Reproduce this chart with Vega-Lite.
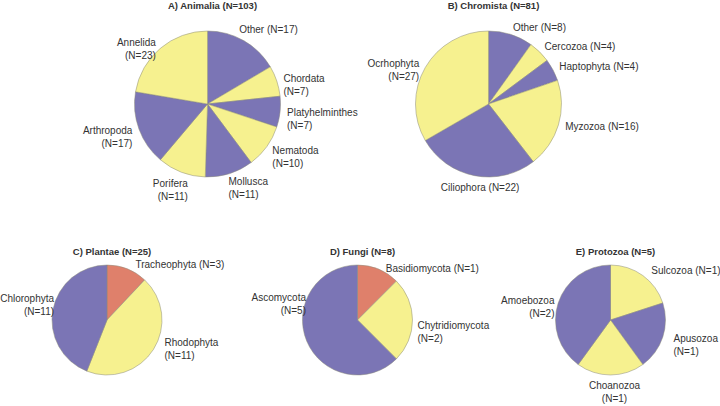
{
  "$schema": "https://vega.github.io/schema/vega-lite/v6.json",
  "padding": 0,
  "background": "white",
  "spacing": 38,
  "data": {"values": [
    {"k": "A", "i": 1, "name": "Other", "n": 17, "label": "Other (N=17)"},
    {"k": "A", "i": 2, "name": "Chordata", "n": 7, "label": "Chordata\n(N=7)"},
    {"k": "A", "i": 3, "name": "Platyhelminthes", "n": 7, "label": "Platyhelminthes\n(N=7)"},
    {"k": "A", "i": 4, "name": "Nematoda", "n": 10, "label": "Nematoda\n(N=10)"},
    {"k": "A", "i": 5, "name": "Mollusca", "n": 11, "label": "Mollusca\n(N=11)"},
    {"k": "A", "i": 6, "name": "Porifera", "n": 11, "label": "Porifera\n(N=11)"},
    {"k": "A", "i": 7, "name": "Arthropoda", "n": 17, "label": "Arthropoda\n(N=17)"},
    {"k": "A", "i": 8, "name": "Annelida", "n": 23, "label": "Annelida\n(N=23)"},
    {"k": "B", "i": 1, "name": "Other", "n": 8, "label": "Other (N=8)"},
    {"k": "B", "i": 2, "name": "Cercozoa", "n": 4, "label": "Cercozoa (N=4)"},
    {"k": "B", "i": 3, "name": "Haptophyta", "n": 4, "label": "Haptophyta (N=4)"},
    {"k": "B", "i": 4, "name": "Myzozoa", "n": 16, "label": "Myzozoa (N=16)"},
    {"k": "B", "i": 5, "name": "Ciliophora", "n": 22, "label": "Ciliophora (N=22)"},
    {"k": "B", "i": 6, "name": "Ocrhophyta", "n": 27, "label": "Ocrhophyta\n(N=27)"},
    {"k": "C", "i": 1, "name": "Tracheophyta", "n": 3, "label": "Tracheophyta (N=3)"},
    {"k": "C", "i": 2, "name": "Rhodophyta", "n": 11, "label": "Rhodophyta\n(N=11)"},
    {"k": "C", "i": 3, "name": "Chlorophyta", "n": 11, "label": "Chlorophyta\n(N=11)"},
    {"k": "D", "i": 1, "name": "Basidiomycota", "n": 1, "label": "Basidiomycota (N=1)"},
    {"k": "D", "i": 2, "name": "Chytridiomycota", "n": 2, "label": "Chytridiomycota\n(N=2)"},
    {"k": "D", "i": 3, "name": "Ascomycota", "n": 5, "label": "Ascomycota\n(N=5)"},
    {"k": "E", "i": 1, "name": "Sulcozoa", "n": 1, "label": "Sulcozoa (N=1)"},
    {"k": "E", "i": 2, "name": "Apusozoa", "n": 1, "label": "Apusozoa\n(N=1)"},
    {"k": "E", "i": 3, "name": "Choanozoa", "n": 1, "label": "Choanozoa\n(N=1)"},
    {"k": "E", "i": 4, "name": "Amoebozoa", "n": 2, "label": "Amoebozoa\n(N=2)"}
  ]},
  "config": {
    "view": {"stroke": null},
    "text": {"font": "Liberation Sans", "fontSize": 10, "color": "#333333", "lineBreak": "\n", "lineHeight": 13},
    "arc": {"stroke": "#8a8a7a", "strokeWidth": 0.5},
    "title": {"font": "Liberation Sans", "fontSize": 9.5, "fontWeight": "bold", "color": "#333333", "offset": 6, "anchor": "middle", "frame": "group"},
    "legend": {"disable": true}
  },
  "vconcat": [
    {
      "hconcat": [
        {
          "width": 381, "height": 176,
          "title": {"text": "A) Animalia (N=103)", "dx": 5},
          "transform": [{"filter": "datum.k === 'A'"}],
          "encoding": {
            "theta": {"field": "n", "type": "quantitative", "stack": "normalize"},
            "order": {"field": "i", "type": "quantitative"}
          },
          "layer": [
            {"mark": {"type": "arc", "outerRadius": 73},
             "encoding": {"color": {"field": "name", "type": "nominal", "legend": null,
               "scale": {"domain": ["Other","Chordata","Platyhelminthes","Nematoda","Mollusca","Porifera","Arthropoda","Annelida","Cercozoa","Haptophyta","Myzozoa","Ciliophora","Ocrhophyta","Tracheophyta","Rhodophyta","Chlorophyta","Basidiomycota","Chytridiomycota","Ascomycota","Sulcozoa","Apusozoa","Choanozoa","Amoebozoa"],
                         "range": ["#7b75b5","#f6f18f","#7b75b5","#f6f18f","#7b75b5","#f6f18f","#7b75b5","#f6f18f","#f6f18f","#7b75b5","#f6f18f","#7b75b5","#f6f18f","#df806b","#f6f18f","#7b75b5","#df806b","#f6f18f","#7b75b5","#f6f18f","#7b75b5","#f6f18f","#7b75b5"]}}}},
            {"mark": {"type": "text", "radius": 80, "align": "left", "baseline": "middle", "dx": -8, "dy": -5},
             "encoding": {"detail": {"field": "name"}, "text": {"condition": {"test": "datum.name === 'Other'", "field": "label"}, "value": ""}}},
            {"mark": {"type": "text", "radius": 80, "align": "left", "baseline": "middle"},
             "encoding": {"detail": {"field": "name"}, "text": {"condition": {"test": "indexof(['Chordata','Platyhelminthes','Nematoda'], datum.name) >= 0", "field": "label"}, "value": ""}}},
            {"mark": {"type": "text", "radius": 80, "align": "right", "baseline": "middle"},
             "encoding": {"detail": {"field": "name"}, "text": {"condition": {"test": "indexof(['Annelida','Arthropoda'], datum.name) >= 0", "field": "label"}, "value": ""}}},
            {"mark": {"type": "text", "radius": 80, "align": "left", "baseline": "top", "dx": -3, "dy": -3},
             "encoding": {"detail": {"field": "name"}, "text": {"condition": {"test": "datum.name === 'Mollusca'", "field": "label"}, "value": ""}}},
            {"mark": {"type": "text", "radius": 80, "align": "right", "baseline": "top", "dx": 9},
             "encoding": {"detail": {"field": "name"}, "text": {"condition": {"test": "datum.name === 'Porifera'", "field": "label"}, "value": ""}}}
          ]
        },
        {
          "width": 141, "height": 176,
          "title": {"text": "B) Chromista (N=81)", "dx": 5},
          "transform": [{"filter": "datum.k === 'B'"}],
          "encoding": {
            "theta": {"field": "n", "type": "quantitative", "stack": "normalize"},
            "order": {"field": "i", "type": "quantitative"}
          },
          "layer": [
            {"mark": {"type": "arc", "outerRadius": 73},
             "encoding": {"color": {"field": "name", "type": "nominal", "legend": null,
               "scale": {"domain": ["Other","Chordata","Platyhelminthes","Nematoda","Mollusca","Porifera","Arthropoda","Annelida","Cercozoa","Haptophyta","Myzozoa","Ciliophora","Ocrhophyta","Tracheophyta","Rhodophyta","Chlorophyta","Basidiomycota","Chytridiomycota","Ascomycota","Sulcozoa","Apusozoa","Choanozoa","Amoebozoa"],
                         "range": ["#7b75b5","#f6f18f","#7b75b5","#f6f18f","#7b75b5","#f6f18f","#7b75b5","#f6f18f","#f6f18f","#7b75b5","#f6f18f","#7b75b5","#f6f18f","#df806b","#f6f18f","#7b75b5","#df806b","#f6f18f","#7b75b5","#f6f18f","#7b75b5","#f6f18f","#7b75b5"]}}}},
            {"mark": {"type": "text", "radius": 80, "align": "left", "baseline": "middle"},
             "encoding": {"detail": {"field": "name"}, "text": {"condition": {"test": "indexof(['Other','Cercozoa','Haptophyta','Myzozoa'], datum.name) >= 0", "field": "label"}, "value": ""}}},
            {"mark": {"type": "text", "radius": 80, "align": "right", "baseline": "middle"},
             "encoding": {"detail": {"field": "name"}, "text": {"condition": {"test": "datum.name === 'Ocrhophyta'", "field": "label"}, "value": ""}}},
            {"mark": {"type": "text", "radius": 80, "align": "center", "baseline": "top", "dx": 7},
             "encoding": {"detail": {"field": "name"}, "text": {"condition": {"test": "datum.name === 'Ciliophora'", "field": "label"}, "value": ""}}}
          ]
        }
      ],
      "spacing": 20,
      "bounds": "flush"
    },
    {
      "hconcat": [
        {
          "width": 180, "height": 160,
          "title": {"text": "C) Plantae (N=25)", "dx": 5, "offset": -16},
          "transform": [{"filter": "datum.k === 'C'"}],
          "encoding": {
            "theta": {"field": "n", "type": "quantitative", "stack": "normalize"},
            "order": {"field": "i", "type": "quantitative"}
          },
          "layer": [
            {"mark": {"type": "arc", "outerRadius": 55},
             "encoding": {"color": {"field": "name", "type": "nominal", "legend": null,
               "scale": {"domain": ["Other","Chordata","Platyhelminthes","Nematoda","Mollusca","Porifera","Arthropoda","Annelida","Cercozoa","Haptophyta","Myzozoa","Ciliophora","Ocrhophyta","Tracheophyta","Rhodophyta","Chlorophyta","Basidiomycota","Chytridiomycota","Ascomycota","Sulcozoa","Apusozoa","Choanozoa","Amoebozoa"],
                         "range": ["#7b75b5","#f6f18f","#7b75b5","#f6f18f","#7b75b5","#f6f18f","#7b75b5","#f6f18f","#f6f18f","#7b75b5","#f6f18f","#7b75b5","#f6f18f","#df806b","#f6f18f","#7b75b5","#df806b","#f6f18f","#7b75b5","#f6f18f","#7b75b5","#f6f18f","#7b75b5"]}}}},
            {"mark": {"type": "text", "radius": 61, "align": "left", "baseline": "middle", "dx": 6, "dy": 2},
             "encoding": {"detail": {"field": "name"}, "text": {"condition": {"test": "datum.name === 'Tracheophyta'", "field": "label"}, "value": ""}}},
            {"mark": {"type": "text", "radius": 61, "align": "left", "baseline": "middle", "dx": 6, "dy": -10},
             "encoding": {"detail": {"field": "name"}, "text": {"condition": {"test": "datum.name === 'Rhodophyta'", "field": "label"}, "value": ""}}},
            {"mark": {"type": "text", "radius": 61, "align": "right", "baseline": "middle", "dx": 7, "dy": -10},
             "encoding": {"detail": {"field": "name"}, "text": {"condition": {"test": "datum.name === 'Chlorophyta'", "field": "label"}, "value": ""}}}
          ]
        },
        {
          "width": 281, "height": 160,
          "title": {"text": "D) Fungi (N=8)", "dx": 5, "offset": -16},
          "transform": [{"filter": "datum.k === 'D'"}],
          "encoding": {
            "theta": {"field": "n", "type": "quantitative", "stack": "normalize"},
            "order": {"field": "i", "type": "quantitative"}
          },
          "layer": [
            {"mark": {"type": "arc", "outerRadius": 55},
             "encoding": {"color": {"field": "name", "type": "nominal", "legend": null,
               "scale": {"domain": ["Other","Chordata","Platyhelminthes","Nematoda","Mollusca","Porifera","Arthropoda","Annelida","Cercozoa","Haptophyta","Myzozoa","Ciliophora","Ocrhophyta","Tracheophyta","Rhodophyta","Chlorophyta","Basidiomycota","Chytridiomycota","Ascomycota","Sulcozoa","Apusozoa","Choanozoa","Amoebozoa"],
                         "range": ["#7b75b5","#f6f18f","#7b75b5","#f6f18f","#7b75b5","#f6f18f","#7b75b5","#f6f18f","#f6f18f","#7b75b5","#f6f18f","#7b75b5","#f6f18f","#df806b","#f6f18f","#7b75b5","#df806b","#f6f18f","#7b75b5","#f6f18f","#7b75b5","#f6f18f","#7b75b5"]}}}},
            {"mark": {"type": "text", "radius": 61, "align": "left", "baseline": "middle", "dx": 5, "dy": 5},
             "encoding": {"detail": {"field": "name"}, "text": {"condition": {"test": "datum.name === 'Basidiomycota'", "field": "label"}, "value": ""}}},
            {"mark": {"type": "text", "radius": 61, "align": "left", "baseline": "middle", "dx": -1, "dy": 6},
             "encoding": {"detail": {"field": "name"}, "text": {"condition": {"test": "datum.name === 'Chytridiomycota'", "field": "label"}, "value": ""}}},
            {"mark": {"type": "text", "radius": 20, "align": "right", "baseline": "middle", "dx": -33, "dy": -30},
             "encoding": {"detail": {"field": "name"}, "text": {"condition": {"test": "datum.name === 'Ascomycota'", "field": "label"}, "value": ""}}}
          ]
        },
        {
          "width": 185, "height": 160,
          "title": {"text": "E) Protozoa (N=5)", "dx": 5, "offset": -16},
          "transform": [{"filter": "datum.k === 'E'"}],
          "encoding": {
            "theta": {"field": "n", "type": "quantitative", "stack": "normalize"},
            "order": {"field": "i", "type": "quantitative"}
          },
          "layer": [
            {"mark": {"type": "arc", "outerRadius": 55},
             "encoding": {"color": {"field": "name", "type": "nominal", "legend": null,
               "scale": {"domain": ["Other","Chordata","Platyhelminthes","Nematoda","Mollusca","Porifera","Arthropoda","Annelida","Cercozoa","Haptophyta","Myzozoa","Ciliophora","Ocrhophyta","Tracheophyta","Rhodophyta","Chlorophyta","Basidiomycota","Chytridiomycota","Ascomycota","Sulcozoa","Apusozoa","Choanozoa","Amoebozoa"],
                         "range": ["#7b75b5","#f6f18f","#7b75b5","#f6f18f","#7b75b5","#f6f18f","#7b75b5","#f6f18f","#f6f18f","#7b75b5","#f6f18f","#7b75b5","#f6f18f","#df806b","#f6f18f","#7b75b5","#df806b","#f6f18f","#7b75b5","#f6f18f","#7b75b5","#f6f18f","#7b75b5"]}}}},
            {"mark": {"type": "text", "radius": 61, "align": "left", "baseline": "middle", "dx": 5},
             "encoding": {"detail": {"field": "name"}, "text": {"condition": {"test": "indexof(['Sulcozoa','Apusozoa'], datum.name) >= 0", "field": "label"}, "value": ""}}},
            {"mark": {"type": "text", "radius": 61, "align": "right", "baseline": "middle", "dx": 2},
             "encoding": {"detail": {"field": "name"}, "text": {"condition": {"test": "datum.name === 'Amoebozoa'", "field": "label"}, "value": ""}}},
            {"mark": {"type": "text", "radius": 61, "align": "center", "baseline": "top", "dx": 4},
             "encoding": {"detail": {"field": "name"}, "text": {"condition": {"test": "datum.name === 'Choanozoa'", "field": "label"}, "value": ""}}}
          ]
        }
      ],
      "spacing": 20,
      "bounds": "flush"
    }
  ]
}
